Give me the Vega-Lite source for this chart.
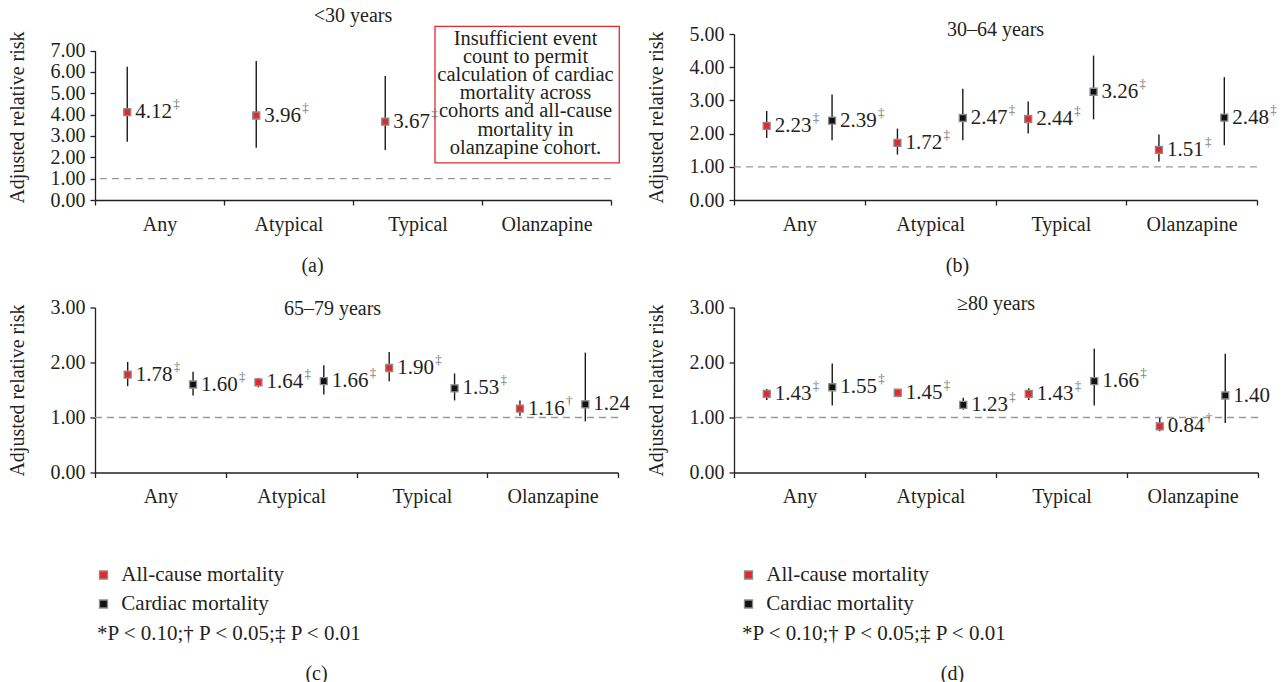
{
  "$schema": "https://vega.github.io/schema/vega-lite/v6.json",
  "background": "white",
  "padding": {"left": 7, "top": 6, "right": 0, "bottom": 0},
  "datasets": {
    "rr": [
      {"panel": "a", "drug": "Any", "outcome": "All-cause mortality", "rr": 4.12, "lo": 2.73, "hi": 6.25, "sig": "‡"},
      {"panel": "a", "drug": "Atypical", "outcome": "All-cause mortality", "rr": 3.96, "lo": 2.45, "hi": 6.52, "sig": "‡"},
      {"panel": "a", "drug": "Typical", "outcome": "All-cause mortality", "rr": 3.67, "lo": 2.34, "hi": 5.81, "sig": "‡"},
      {"panel": "b", "drug": "Any", "outcome": "All-cause mortality", "rr": 2.23, "lo": 1.87, "hi": 2.68, "sig": "‡"},
      {"panel": "b", "drug": "Any", "outcome": "Cardiac mortality", "rr": 2.39, "lo": 1.80, "hi": 3.18, "sig": "‡"},
      {"panel": "b", "drug": "Atypical", "outcome": "All-cause mortality", "rr": 1.72, "lo": 1.37, "hi": 2.15, "sig": "‡"},
      {"panel": "b", "drug": "Atypical", "outcome": "Cardiac mortality", "rr": 2.47, "lo": 1.80, "hi": 3.35, "sig": "‡"},
      {"panel": "b", "drug": "Typical", "outcome": "All-cause mortality", "rr": 2.44, "lo": 2.00, "hi": 2.97, "sig": "‡"},
      {"panel": "b", "drug": "Typical", "outcome": "Cardiac mortality", "rr": 3.26, "lo": 2.43, "hi": 4.35, "sig": "‡"},
      {"panel": "b", "drug": "Olanzapine", "outcome": "All-cause mortality", "rr": 1.51, "lo": 1.16, "hi": 1.97, "sig": "‡"},
      {"panel": "b", "drug": "Olanzapine", "outcome": "Cardiac mortality", "rr": 2.48, "lo": 1.65, "hi": 3.70, "sig": "‡"},
      {"panel": "c", "drug": "Any", "outcome": "All-cause mortality", "rr": 1.78, "lo": 1.57, "hi": 2.01, "sig": "‡"},
      {"panel": "c", "drug": "Any", "outcome": "Cardiac mortality", "rr": 1.60, "lo": 1.40, "hi": 1.83, "sig": "‡"},
      {"panel": "c", "drug": "Atypical", "outcome": "All-cause mortality", "rr": 1.64, "lo": 1.55, "hi": 1.72, "sig": "‡"},
      {"panel": "c", "drug": "Atypical", "outcome": "Cardiac mortality", "rr": 1.66, "lo": 1.42, "hi": 1.95, "sig": "‡"},
      {"panel": "c", "drug": "Typical", "outcome": "All-cause mortality", "rr": 1.90, "lo": 1.66, "hi": 2.19, "sig": "‡"},
      {"panel": "c", "drug": "Typical", "outcome": "Cardiac mortality", "rr": 1.53, "lo": 1.31, "hi": 1.80, "sig": "‡"},
      {"panel": "c", "drug": "Olanzapine", "outcome": "All-cause mortality", "rr": 1.16, "lo": 1.03, "hi": 1.31, "sig": "†"},
      {"panel": "c", "drug": "Olanzapine", "outcome": "Cardiac mortality", "rr": 1.24, "lo": 0.93, "hi": 2.18, "sig": ""},
      {"panel": "d", "drug": "Any", "outcome": "All-cause mortality", "rr": 1.43, "lo": 1.32, "hi": 1.52, "sig": "‡"},
      {"panel": "d", "drug": "Any", "outcome": "Cardiac mortality", "rr": 1.55, "lo": 1.22, "hi": 1.98, "sig": "‡"},
      {"panel": "d", "drug": "Atypical", "outcome": "All-cause mortality", "rr": 1.45, "lo": 1.37, "hi": 1.52, "sig": "‡"},
      {"panel": "d", "drug": "Atypical", "outcome": "Cardiac mortality", "rr": 1.23, "lo": 1.14, "hi": 1.36, "sig": "‡"},
      {"panel": "d", "drug": "Typical", "outcome": "All-cause mortality", "rr": 1.43, "lo": 1.32, "hi": 1.53, "sig": "‡"},
      {"panel": "d", "drug": "Typical", "outcome": "Cardiac mortality", "rr": 1.66, "lo": 1.22, "hi": 2.25, "sig": "‡"},
      {"panel": "d", "drug": "Olanzapine", "outcome": "All-cause mortality", "rr": 0.84, "lo": 0.75, "hi": 0.99, "sig": "†"},
      {"panel": "d", "drug": "Olanzapine", "outcome": "Cardiac mortality", "rr": 1.40, "lo": 0.90, "hi": 2.16, "sig": ""}
    ],
    "ref": [{"ref": 1}],
    "note": [{"drug": "Olanzapine", "ny": 4.94, "note": "Insufficient event\ncount to permit\ncalculation of cardiac\nmortality across\ncohorts and all-cause\nmortality in\nolanzapine cohort."}]
  },
  "concat": [
    {
      "width": 516, "height": 166,
      "title": {"text": "<30 years", "offset": -2.5},
      "data": {"name": "rr"},
      "transform": [{"filter": "datum.panel == 'a'"}],
      "layer": [
        {"data": {"name": "ref"}, "mark": {"type": "rule", "stroke": "#9a9a9a", "strokeDash": [7, 5], "strokeWidth": 1.3},
         "encoding": {"y": {"field": "ref", "type": "quantitative", "scale": {"domain": [0, 7.78]}, "axis": {"title": "Adjusted relative risk", "values": [0, 1, 2, 3, 4, 5, 6, 7], "domainDash": [149.5, 40]}}}},
        {"data": {"name": "note"}, "mark": {"type": "point", "shape": "M-1.21,-0.74H0.79V0.74H-1.21Z", "size": 33966, "filled": false, "stroke": "#e8262b", "strokeWidth": 1.3, "opacity": 1},
         "encoding": {
           "x": {"field": "drug", "type": "nominal", "scale": {"domain": ["Any", "Atypical", "Typical", "Olanzapine"], "paddingInner": 0, "paddingOuter": 0}, "axis": {"title": "(a)", "tickBand": "extent", "titlePadding": 21, "titleX": 217}},
           "y": {"field": "ny", "type": "quantitative", "scale": {"domain": [0, 7.78]}, "axis": {"title": "Adjusted relative risk", "values": [0, 1, 2, 3, 4, 5, 6, 7], "domainDash": [149.5, 40]}}}},
        {"data": {"name": "note"}, "mark": {"type": "text", "align": "center", "baseline": "middle", "lineBreak": "\n", "lineHeight": 18.2, "fontSize": 20.5, "dx": -21, "dy": -56, "color": "#231f20"},
         "encoding": {
           "x": {"field": "drug", "type": "nominal", "scale": {"domain": ["Any", "Atypical", "Typical", "Olanzapine"], "paddingInner": 0, "paddingOuter": 0}, "axis": {"title": "(a)", "tickBand": "extent", "titlePadding": 21, "titleX": 217}},
           "y": {"field": "ny", "type": "quantitative", "scale": {"domain": [0, 7.78]}, "axis": {"title": "Adjusted relative risk", "values": [0, 1, 2, 3, 4, 5, 6, 7], "domainDash": [149.5, 40]}},
           "text": {"field": "note", "type": "nominal"}}},
        {"mark": {"type": "rule", "stroke": "#1a1a1a", "strokeWidth": 1.4},
         "encoding": {
           "x": {"field": "drug", "type": "nominal", "scale": {"domain": ["Any", "Atypical", "Typical", "Olanzapine"], "paddingInner": 0, "paddingOuter": 0}, "axis": {"title": "(a)", "tickBand": "extent", "titlePadding": 21, "titleX": 217}},
           "xOffset": {"field": "outcome", "type": "nominal", "scale": {"domain": ["All-cause mortality", "Cardiac mortality"], "paddingInner": 0, "paddingOuter": 0}},
           "y": {"field": "lo", "type": "quantitative", "scale": {"domain": [0, 7.78]}, "axis": {"title": "Adjusted relative risk", "values": [0, 1, 2, 3, 4, 5, 6, 7], "domainDash": [149.5, 40]}},
           "y2": {"field": "hi"}}},
        {"mark": {"type": "point", "shape": "square", "filled": true, "size": 49, "stroke": "#8c8c8c", "strokeWidth": 1.3, "opacity": 1},
         "encoding": {
           "x": {"field": "drug", "type": "nominal", "scale": {"domain": ["Any", "Atypical", "Typical", "Olanzapine"], "paddingInner": 0, "paddingOuter": 0}, "axis": {"title": "(a)", "tickBand": "extent", "titlePadding": 21, "titleX": 217}},
           "xOffset": {"field": "outcome", "type": "nominal", "scale": {"domain": ["All-cause mortality", "Cardiac mortality"], "paddingInner": 0, "paddingOuter": 0}},
           "y": {"field": "rr", "type": "quantitative", "scale": {"domain": [0, 7.78]}, "axis": {"title": "Adjusted relative risk", "values": [0, 1, 2, 3, 4, 5, 6, 7], "domainDash": [149.5, 40]}},
           "color": {"field": "outcome", "type": "nominal", "scale": {"domain": ["All-cause mortality", "Cardiac mortality"], "range": ["#e8262b", "#111111"]}, "legend": null}}},
        {"mark": {"type": "text", "align": "left", "baseline": "middle", "dx": 8, "fontSize": 21, "color": "#231f20"},
         "encoding": {
           "x": {"field": "drug", "type": "nominal", "scale": {"domain": ["Any", "Atypical", "Typical", "Olanzapine"], "paddingInner": 0, "paddingOuter": 0}, "axis": {"title": "(a)", "tickBand": "extent", "titlePadding": 21, "titleX": 217}},
           "xOffset": {"field": "outcome", "type": "nominal", "scale": {"domain": ["All-cause mortality", "Cardiac mortality"], "paddingInner": 0, "paddingOuter": 0}},
           "y": {"field": "rr", "type": "quantitative", "scale": {"domain": [0, 7.78]}, "axis": {"title": "Adjusted relative risk", "values": [0, 1, 2, 3, 4, 5, 6, 7], "domainDash": [149.5, 40]}},
           "text": {"field": "rr", "type": "quantitative", "format": ".2f"}}},
        {"mark": {"type": "text", "align": "left", "baseline": "middle", "dx": 46, "dy": -8, "fontSize": 13, "color": "#707070"},
         "encoding": {
           "x": {"field": "drug", "type": "nominal", "scale": {"domain": ["Any", "Atypical", "Typical", "Olanzapine"], "paddingInner": 0, "paddingOuter": 0}, "axis": {"title": "(a)", "tickBand": "extent", "titlePadding": 21, "titleX": 217}},
           "xOffset": {"field": "outcome", "type": "nominal", "scale": {"domain": ["All-cause mortality", "Cardiac mortality"], "paddingInner": 0, "paddingOuter": 0}},
           "y": {"field": "rr", "type": "quantitative", "scale": {"domain": [0, 7.78]}, "axis": {"title": "Adjusted relative risk", "values": [0, 1, 2, 3, 4, 5, 6, 7], "domainDash": [149.5, 40]}},
           "text": {"field": "sig", "type": "nominal"}}}
      ]
    },
    {
      "width": 523, "height": 166,
      "title": {"text": "30–64 years", "offset": -15.5},
      "data": {"name": "rr"},
      "transform": [{"filter": "datum.panel == 'b'"}],
      "layer": [
        {"data": {"name": "ref"}, "mark": {"type": "rule", "stroke": "#9a9a9a", "strokeDash": [7, 5], "strokeWidth": 1.3},
         "encoding": {"y": {"field": "ref", "type": "quantitative", "scale": {"domain": [0, 5]}, "axis": {"title": "Adjusted relative risk", "values": [0, 1, 2, 3, 4, 5]}}}},
        {"mark": {"type": "rule", "stroke": "#1a1a1a", "strokeWidth": 1.4},
         "encoding": {
           "x": {"field": "drug", "type": "nominal", "scale": {"domain": ["Any", "Atypical", "Typical", "Olanzapine"], "paddingInner": 0, "paddingOuter": 0}, "axis": {"title": "(b)", "tickBand": "extent", "titlePadding": 21, "titleX": 223}},
           "xOffset": {"field": "outcome", "type": "nominal", "scale": {"domain": ["All-cause mortality", "Cardiac mortality"], "paddingInner": 0, "paddingOuter": 0}},
           "y": {"field": "lo", "type": "quantitative", "scale": {"domain": [0, 5]}, "axis": {"title": "Adjusted relative risk", "values": [0, 1, 2, 3, 4, 5]}},
           "y2": {"field": "hi"}}},
        {"mark": {"type": "point", "shape": "square", "filled": true, "size": 49, "stroke": "#8c8c8c", "strokeWidth": 1.3, "opacity": 1},
         "encoding": {
           "x": {"field": "drug", "type": "nominal", "scale": {"domain": ["Any", "Atypical", "Typical", "Olanzapine"], "paddingInner": 0, "paddingOuter": 0}, "axis": {"title": "(b)", "tickBand": "extent", "titlePadding": 21, "titleX": 223}},
           "xOffset": {"field": "outcome", "type": "nominal", "scale": {"domain": ["All-cause mortality", "Cardiac mortality"], "paddingInner": 0, "paddingOuter": 0}},
           "y": {"field": "rr", "type": "quantitative", "scale": {"domain": [0, 5]}, "axis": {"title": "Adjusted relative risk", "values": [0, 1, 2, 3, 4, 5]}},
           "color": {"field": "outcome", "type": "nominal", "scale": {"domain": ["All-cause mortality", "Cardiac mortality"], "range": ["#e8262b", "#111111"]}, "legend": null}}},
        {"mark": {"type": "text", "align": "left", "baseline": "middle", "dx": 8, "fontSize": 21, "color": "#231f20"},
         "encoding": {
           "x": {"field": "drug", "type": "nominal", "scale": {"domain": ["Any", "Atypical", "Typical", "Olanzapine"], "paddingInner": 0, "paddingOuter": 0}, "axis": {"title": "(b)", "tickBand": "extent", "titlePadding": 21, "titleX": 223}},
           "xOffset": {"field": "outcome", "type": "nominal", "scale": {"domain": ["All-cause mortality", "Cardiac mortality"], "paddingInner": 0, "paddingOuter": 0}},
           "y": {"field": "rr", "type": "quantitative", "scale": {"domain": [0, 5]}, "axis": {"title": "Adjusted relative risk", "values": [0, 1, 2, 3, 4, 5]}},
           "text": {"field": "rr", "type": "quantitative", "format": ".2f"}}},
        {"mark": {"type": "text", "align": "left", "baseline": "middle", "dx": 46, "dy": -8, "fontSize": 13, "color": "#707070"},
         "encoding": {
           "x": {"field": "drug", "type": "nominal", "scale": {"domain": ["Any", "Atypical", "Typical", "Olanzapine"], "paddingInner": 0, "paddingOuter": 0}, "axis": {"title": "(b)", "tickBand": "extent", "titlePadding": 21, "titleX": 223}},
           "xOffset": {"field": "outcome", "type": "nominal", "scale": {"domain": ["All-cause mortality", "Cardiac mortality"], "paddingInner": 0, "paddingOuter": 0}},
           "y": {"field": "rr", "type": "quantitative", "scale": {"domain": [0, 5]}, "axis": {"title": "Adjusted relative risk", "values": [0, 1, 2, 3, 4, 5]}},
           "text": {"field": "sig", "type": "nominal"}}}
      ]
    },
    {
      "width": 523, "height": 165,
      "title": {"text": "65–79 years", "offset": -21, "dx": -24},
      "data": {"name": "rr"},
      "transform": [{"filter": "datum.panel == 'c'"}],
      "layer": [
        {"data": {"name": "ref"}, "mark": {"type": "rule", "stroke": "#9a9a9a", "strokeDash": [7, 5], "strokeWidth": 1.3},
         "encoding": {"y": {"field": "ref", "type": "quantitative", "scale": {"domain": [0, 3]}, "axis": {"title": "Adjusted relative risk", "values": [0, 1, 2, 3]}}}},
        {"mark": {"type": "rule", "stroke": "#1a1a1a", "strokeWidth": 1.4},
         "encoding": {
           "x": {"field": "drug", "type": "nominal", "scale": {"domain": ["Any", "Atypical", "Typical", "Olanzapine"], "paddingInner": 0, "paddingOuter": 0}, "axis": {"title": "(c)", "tickBand": "extent", "titlePadding": 157, "titleX": 221}},
           "xOffset": {"field": "outcome", "type": "nominal", "scale": {"domain": ["All-cause mortality", "Cardiac mortality"], "paddingInner": 0, "paddingOuter": 0}},
           "y": {"field": "lo", "type": "quantitative", "scale": {"domain": [0, 3]}, "axis": {"title": "Adjusted relative risk", "values": [0, 1, 2, 3]}},
           "y2": {"field": "hi"}}},
        {"mark": {"type": "point", "shape": "square", "filled": true, "size": 49, "stroke": "#8c8c8c", "strokeWidth": 1.3, "opacity": 1},
         "encoding": {
           "x": {"field": "drug", "type": "nominal", "scale": {"domain": ["Any", "Atypical", "Typical", "Olanzapine"], "paddingInner": 0, "paddingOuter": 0}, "axis": {"title": "(c)", "tickBand": "extent", "titlePadding": 157, "titleX": 221}},
           "xOffset": {"field": "outcome", "type": "nominal", "scale": {"domain": ["All-cause mortality", "Cardiac mortality"], "paddingInner": 0, "paddingOuter": 0}},
           "y": {"field": "rr", "type": "quantitative", "scale": {"domain": [0, 3]}, "axis": {"title": "Adjusted relative risk", "values": [0, 1, 2, 3]}},
           "color": {"field": "outcome", "type": "nominal", "scale": {"domain": ["All-cause mortality", "Cardiac mortality"], "range": ["#e8262b", "#111111"]},
                     "legend": {"orient": "none", "legendX": 2, "legendY": 257, "direction": "vertical", "title": "*P < 0.10;† P < 0.05;‡ P < 0.01", "titleOrient": "bottom", "titleAnchor": "start", "titlePadding": 8, "titleLimit": 600, "labelLimit": 400}}}},
        {"mark": {"type": "text", "align": "left", "baseline": "middle", "dx": 8, "fontSize": 21, "color": "#231f20"},
         "encoding": {
           "x": {"field": "drug", "type": "nominal", "scale": {"domain": ["Any", "Atypical", "Typical", "Olanzapine"], "paddingInner": 0, "paddingOuter": 0}, "axis": {"title": "(c)", "tickBand": "extent", "titlePadding": 157, "titleX": 221}},
           "xOffset": {"field": "outcome", "type": "nominal", "scale": {"domain": ["All-cause mortality", "Cardiac mortality"], "paddingInner": 0, "paddingOuter": 0}},
           "y": {"field": "rr", "type": "quantitative", "scale": {"domain": [0, 3]}, "axis": {"title": "Adjusted relative risk", "values": [0, 1, 2, 3]}},
           "text": {"field": "rr", "type": "quantitative", "format": ".2f"}}},
        {"mark": {"type": "text", "align": "left", "baseline": "middle", "dx": 46, "dy": -8, "fontSize": 13, "color": "#707070"},
         "encoding": {
           "x": {"field": "drug", "type": "nominal", "scale": {"domain": ["Any", "Atypical", "Typical", "Olanzapine"], "paddingInner": 0, "paddingOuter": 0}, "axis": {"title": "(c)", "tickBand": "extent", "titlePadding": 157, "titleX": 221}},
           "xOffset": {"field": "outcome", "type": "nominal", "scale": {"domain": ["All-cause mortality", "Cardiac mortality"], "paddingInner": 0, "paddingOuter": 0}},
           "y": {"field": "rr", "type": "quantitative", "scale": {"domain": [0, 3]}, "axis": {"title": "Adjusted relative risk", "values": [0, 1, 2, 3]}},
           "text": {"field": "sig", "type": "nominal"}}}
      ]
    },
    {
      "width": 524, "height": 165,
      "title": {"text": "≥80 years", "offset": -16},
      "data": {"name": "rr"},
      "transform": [{"filter": "datum.panel == 'd'"}],
      "layer": [
        {"data": {"name": "ref"}, "mark": {"type": "rule", "stroke": "#9a9a9a", "strokeDash": [7, 5], "strokeWidth": 1.3},
         "encoding": {"y": {"field": "ref", "type": "quantitative", "scale": {"domain": [0, 3]}, "axis": {"title": "Adjusted relative risk", "values": [0, 1, 2, 3]}}}},
        {"mark": {"type": "rule", "stroke": "#1a1a1a", "strokeWidth": 1.4},
         "encoding": {
           "x": {"field": "drug", "type": "nominal", "scale": {"domain": ["Any", "Atypical", "Typical", "Olanzapine"], "paddingInner": 0, "paddingOuter": 0}, "axis": {"title": "(d)", "tickBand": "extent", "titlePadding": 157, "titleX": 218}},
           "xOffset": {"field": "outcome", "type": "nominal", "scale": {"domain": ["All-cause mortality", "Cardiac mortality"], "paddingInner": 0, "paddingOuter": 0}},
           "y": {"field": "lo", "type": "quantitative", "scale": {"domain": [0, 3]}, "axis": {"title": "Adjusted relative risk", "values": [0, 1, 2, 3]}},
           "y2": {"field": "hi"}}},
        {"mark": {"type": "point", "shape": "square", "filled": true, "size": 49, "stroke": "#8c8c8c", "strokeWidth": 1.3, "opacity": 1},
         "encoding": {
           "x": {"field": "drug", "type": "nominal", "scale": {"domain": ["Any", "Atypical", "Typical", "Olanzapine"], "paddingInner": 0, "paddingOuter": 0}, "axis": {"title": "(d)", "tickBand": "extent", "titlePadding": 157, "titleX": 218}},
           "xOffset": {"field": "outcome", "type": "nominal", "scale": {"domain": ["All-cause mortality", "Cardiac mortality"], "paddingInner": 0, "paddingOuter": 0}},
           "y": {"field": "rr", "type": "quantitative", "scale": {"domain": [0, 3]}, "axis": {"title": "Adjusted relative risk", "values": [0, 1, 2, 3]}},
           "color": {"field": "outcome", "type": "nominal", "scale": {"domain": ["All-cause mortality", "Cardiac mortality"], "range": ["#e8262b", "#111111"]},
                     "legend": {"orient": "none", "legendX": 8, "legendY": 257, "direction": "vertical", "title": "*P < 0.10;† P < 0.05;‡ P < 0.01", "titleOrient": "bottom", "titleAnchor": "start", "titlePadding": 8, "titleLimit": 600, "labelLimit": 400}}}},
        {"mark": {"type": "text", "align": "left", "baseline": "middle", "dx": 8, "fontSize": 21, "color": "#231f20"},
         "encoding": {
           "x": {"field": "drug", "type": "nominal", "scale": {"domain": ["Any", "Atypical", "Typical", "Olanzapine"], "paddingInner": 0, "paddingOuter": 0}, "axis": {"title": "(d)", "tickBand": "extent", "titlePadding": 157, "titleX": 218}},
           "xOffset": {"field": "outcome", "type": "nominal", "scale": {"domain": ["All-cause mortality", "Cardiac mortality"], "paddingInner": 0, "paddingOuter": 0}},
           "y": {"field": "rr", "type": "quantitative", "scale": {"domain": [0, 3]}, "axis": {"title": "Adjusted relative risk", "values": [0, 1, 2, 3]}},
           "text": {"field": "rr", "type": "quantitative", "format": ".2f"}}},
        {"mark": {"type": "text", "align": "left", "baseline": "middle", "dx": 46, "dy": -8, "fontSize": 13, "color": "#707070"},
         "encoding": {
           "x": {"field": "drug", "type": "nominal", "scale": {"domain": ["Any", "Atypical", "Typical", "Olanzapine"], "paddingInner": 0, "paddingOuter": 0}, "axis": {"title": "(d)", "tickBand": "extent", "titlePadding": 157, "titleX": 218}},
           "xOffset": {"field": "outcome", "type": "nominal", "scale": {"domain": ["All-cause mortality", "Cardiac mortality"], "paddingInner": 0, "paddingOuter": 0}},
           "y": {"field": "rr", "type": "quantitative", "scale": {"domain": [0, 3]}, "axis": {"title": "Adjusted relative risk", "values": [0, 1, 2, 3]}},
           "text": {"field": "sig", "type": "nominal"}}}
      ]
    }
  ],
  "columns": 2,
  "spacing": {"row": 107.5, "column": 116},
  "bounds": "flush",
  "resolve": {"scale": {"color": "independent", "xOffset": "independent"}, "legend": {"color": "independent"}},
  "config": {
    "font": "Liberation Serif",
    "view": {"stroke": null},
    "title": {"fontSize": 20, "fontWeight": "normal", "color": "#231f20", "anchor": "middle", "baseline": "alphabetic", "font": "Liberation Serif"},
    "axis": {"labelFontSize": 20, "titleFontSize": 20, "titleFontWeight": "normal", "labelColor": "#231f20", "titleColor": "#231f20", "domainColor": "#231f20", "tickColor": "#231f20", "domainWidth": 1.3, "tickWidth": 1.3, "tickSize": 5, "grid": false, "labelFont": "Liberation Serif", "titleFont": "Liberation Serif"},
    "axisX": {"labelAngle": 0, "labelPadding": 9},
    "axisY": {"labelPadding": 5, "format": ".2f", "titlePadding": 23},
    "legend": {"padding": 0, "labelFontSize": 21, "labelLimit": 400, "labelFont": "Liberation Serif", "labelColor": "#231f20", "labelOffset": 7.3, "symbolType": "square", "symbolSize": 64, "symbolOffset": -4, "rowPadding": 7, "titleFontSize": 21, "titleFontWeight": "normal", "titleFont": "Liberation Serif", "titleColor": "#231f20", "symbolStrokeColor": "#8c8c8c", "symbolStrokeWidth": 1.3}
  }
}
